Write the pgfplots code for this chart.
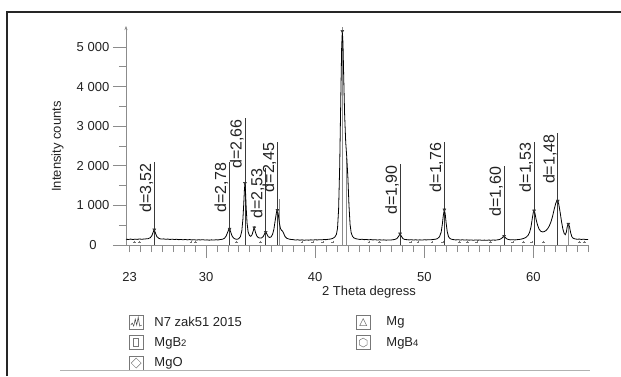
\documentclass[border=0pt]{standalone}
\usepackage{pgfplots}
\pgfplotsset{compat=1.18}
\usepackage{fontspec}
\setmainfont{Liberation Sans}
\usetikzlibrary{arrows.meta}
\definecolor{axgray}{HTML}{8C8C8C}
\definecolor{txt}{HTML}{222222}
\definecolor{dline}{HTML}{3A3A3A}
\definecolor{boxgray}{HTML}{777777}

\pgfplotstableread{
x y
22.67 145
22.9 140
23.1 150
23.3 138
23.5 148
23.7 142
23.9 152
24.1 145
24.3 150
24.5 155
24.7 160
24.9 185
25.05 240
25.15 320
25.26 385
25.37 300
25.5 210
25.7 165
25.9 150
26.1 155
26.3 145
26.5 150
26.7 140
26.9 148
27.1 138
27.3 145
27.5 135
27.7 140
27.9 132
28.1 140
28.3 130
28.5 138
28.7 128
28.9 135
29.1 125
29.3 132
29.5 128
29.7 135
29.9 125
30.1 130
30.3 122
30.5 130
30.7 125
30.9 132
31.1 128
31.3 138
31.5 145
31.7 170
31.85 230
31.98 320
32.08 390
32.16 405
32.26 330
32.4 220
32.55 170
32.7 150
32.85 145
33.0 160
33.15 210
33.28 350
33.38 650
33.46 1050
33.52 1400
33.57 1560
33.62 1350
33.68 950
33.76 560
33.86 330
33.98 240
34.1 220
34.22 260
34.32 350
34.42 440
34.52 330
34.65 230
34.8 185
34.95 175
35.1 180
35.25 215
35.38 290
35.47 325
35.57 280
35.7 210
35.85 190
35.98 210
36.1 270
36.22 400
36.34 620
36.46 830
36.54 880
36.62 780
36.72 560
36.82 420
36.92 370
37.02 350
37.12 290
37.25 210
37.4 170
37.6 150
37.8 140
38.0 135
38.2 125
38.4 132
38.6 122
38.8 130
39.0 120
39.2 128
39.4 122
39.6 130
39.8 125
40.0 132
40.2 128
40.4 135
40.6 130
40.8 138
41.0 135
41.2 145
41.4 150
41.6 165
41.8 200
41.95 270
42.05 420
42.15 900
42.25 2000
42.35 3700
42.43 5000
42.49 5400
42.55 5100
42.62 4200
42.7 3300
42.8 2600
42.9 2200
43.0 1700
43.1 1000
43.2 520
43.3 310
43.42 220
43.55 180
43.7 160
43.9 150
44.1 140
44.3 145
44.5 135
44.7 140
44.9 130
45.1 138
45.3 128
45.5 135
45.7 125
45.9 132
46.1 125
46.3 130
46.5 122
46.7 128
46.9 125
47.1 132
47.3 140
47.5 165
47.65 220
47.78 285
47.9 220
48.05 160
48.2 140
48.4 135
48.6 128
48.8 135
49.0 125
49.2 132
49.4 125
49.6 130
49.8 125
50.0 132
50.2 128
50.4 135
50.6 132
50.8 140
51.0 145
51.2 160
51.4 210
51.55 330
51.65 520
51.75 760
51.84 890
51.92 780
52.0 560
52.1 340
52.22 210
52.35 165
52.5 145
52.7 135
52.9 128
53.1 135
53.3 125
53.5 132
53.7 125
53.9 130
54.1 122
54.3 128
54.5 120
54.7 128
54.9 122
55.1 126
55.3 118
55.5 124
55.7 118
55.9 125
56.1 120
56.3 126
56.5 122
56.7 130
56.9 140
57.1 170
57.22 205
57.31 225
57.42 190
57.55 155
57.7 140
57.9 130
58.1 135
58.3 128
58.5 135
58.7 140
58.9 150
59.1 165
59.3 190
59.5 240
59.65 320
59.78 460
59.9 680
60.0 840
60.06 865
60.14 800
60.25 640
60.38 500
60.52 400
60.68 345
60.85 330
61.0 340
61.15 365
61.3 410
61.45 480
61.6 580
61.75 720
61.9 900
62.05 1060
62.15 1110
62.23 1115
62.32 1030
62.45 820
62.58 580
62.7 400
62.82 290
62.92 260
63.02 330
63.1 470
63.2 530
63.3 470
63.4 320
63.52 210
63.65 170
63.8 155
64.0 145
64.2 150
64.4 140
64.6 148
64.8 138
65.0 140
}\spectrum

% d-spacing reference lines: position, top of line
\pgfplotstableread{
x top
25.26 2090
32.14 2100
33.57 3200
35.47 1950
36.54 2610
47.78 2040
51.84 2610
57.31 2000
60.06 2610
62.23 2820
}\dlines

\begin{document}
\begin{tikzpicture}
\useasboundingbox (0pt,0pt) rectangle (621pt,376pt);
\begin{axis}[
  at={(126pt,131pt)}, anchor=south west,
  scale only axis, width=462pt, height=219pt,
  xmin=22.67, xmax=65, ymin=0, ymax=5530,
  axis x line=bottom, axis y line=left,
  x axis line style={draw=axgray, -},
  y axis line style={draw=axgray, -{Stealth[length=4pt,width=3pt]}},
  tick align=outside,
  major tick length=13pt, minor tick length=7pt,
  tick style={draw=axgray, line width=0.6pt},
  xtick={30,40,50,60},
  xticklabels={30,40,50,60},
  extra x ticks={23}, extra x tick labels={23},
  extra x tick style={major tick length=7pt, xticklabel style={yshift=-6pt}},
  minor xtick={23,24,...,65},
  ytick={0,1000,2000,3000,4000,5000},
  yticklabels={0,{1 000},{2 000},{3 000},{4 000},{5 000}},
  minor ytick={500,1500,2500,3500,4500},
  /pgf/number format/assume math mode=true,
  ticklabel style={font=\fontsize{13}{15}\selectfont, text=txt},
  xticklabel style={anchor=center, yshift=-19.5pt},
  yticklabel style={anchor=center, xshift=-20pt},
  xlabel={2 Theta degress},
  ylabel={Intensity counts},
  label style={font=\fontsize{13}{15}\selectfont, text=txt},
  xlabel style={at={(axis description cs:0.526,-0.215)}, anchor=center},
  ylabel style={at={(axis description cs:-0.148,0.45)}, anchor=center},
  clip=false,
  legend columns=2,
  legend cell align=left,
  legend style={at={(axis description cs:0.006,-0.318)}, anchor=north west,
    draw=none, fill=none, font=\fontsize{13}{15}\selectfont, text=txt,
    /tikz/every odd column/.append style={column sep=9pt},
    /tikz/every even column/.append style={column sep=112pt},
    row sep=6pt, inner sep=0pt,
    nodes={inner ysep=1pt}},
]
% d-lines
\addplot[dline, line width=0.7pt, ycomb, forget plot] table[x=x,y=top]{\dlines};
% stick lines at strong reflections
\addplot[axgray, line width=0.6pt, ycomb, forget plot] coordinates {(42.49,5500) (42.9,2200) (36.72,1160) (63.2,530)};
% spectrum
\addplot[black, line width=0.8pt,
  legend image code/.code={
    \draw[boxgray, line width=0.5pt] (0pt,-7pt) rectangle (14pt,7pt);
    \draw[black!75, line width=0.5pt] (1.5pt,-3pt) -- (3pt,-1pt) -- (4.5pt,-4pt) -- (6pt,3pt) -- (7.5pt,-3pt) -- (9pt,5pt) -- (10.5pt,-4pt) -- (12.5pt,-3pt);
  }] table[x=x,y=y]{\spectrum};
\addlegendentry{N7 zak51 2015}
% Mg
\addplot[only marks, mark=triangle*, mark size=1.7pt, black!80,
  mark options={rotate=180},
  legend image code/.code={
    \draw[boxgray, line width=0.5pt] (0pt,-7pt) rectangle (14pt,7pt);
    \draw[boxgray, line width=0.5pt] (3.5pt,-3.5pt) -- (10.5pt,-3.5pt) -- (7pt,3.5pt) -- cycle;
  }] coordinates {(32.16,405) (34.42,440) (36.54,880) (47.78,285) (57.31,225) (63.2,530)};
\addlegendentry{\hspace*{5pt}Mg}
% MgB2
\addplot[only marks, mark=triangle*, mark size=1.7pt, black!80,
  mark options={rotate=180},
  legend image code/.code={
    \draw[boxgray, line width=0.5pt] (0pt,-7pt) rectangle (14pt,7pt);
    \draw[boxgray, line width=0.5pt] (4.5pt,-4pt) rectangle (9.5pt,4pt);
  }] coordinates {(25.26,385) (33.57,1560) (42.49,5400) (51.84,890) (60.06,865)};
\addlegendentry{MgB\raisebox{-0.3pt}{\fontsize{9.5}{10}\selectfont 2}}
% MgB4
\addplot[only marks, mark=+, mark size=1.4pt, black!55,
  legend image code/.code={
    \draw[boxgray, line width=0.5pt] (0pt,-7pt) rectangle (14pt,7pt);
    \draw[boxgray, line width=0.5pt] (7pt,4.5pt) -- (10.9pt,2.25pt) -- (10.9pt,-2.25pt) -- (7pt,-4.5pt) -- (3.1pt,-2.25pt) -- (3.1pt,2.25pt) -- cycle;
  }] coordinates {(23.43,75) (23.89,75) (28.63,75) (29.02,75) (32.81,75) (35.01,75)
  (38.80,75) (39.78,75) (40.70,75) (41.61,75) (44.94,75) (45.88,75) (48.76,75)
  (49.43,75) (50.71,75) (51.70,75) (53.19,75) (53.93,75) (54.81,75) (56.03,75)
  (58.11,75) (59.08,75) (59.85,75) (60.89,75) (64.19,75) (64.65,75)};
\addlegendentry{\hspace*{5pt}MgB\raisebox{-0.3pt}{\fontsize{9.5}{10}\selectfont 4}}
% MgO
\addplot[only marks, mark=triangle*, mark size=1.7pt, black!80,
  mark options={rotate=180},
  legend image code/.code={
    \draw[boxgray, line width=0.5pt] (0pt,-7pt) rectangle (14pt,7pt);
    \draw[boxgray, line width=0.5pt] (7pt,-5pt) -- (12pt,0pt) -- (7pt,5pt) -- (2pt,0pt) -- cycle;
  }] coordinates {(35.47,325) (62.23,1115)};
\addlegendentry{MgO}
% d labels
\node[rotate=90, anchor=south east, inner sep=1pt, font=\fontsize{16}{18}\selectfont, text=txt] at (axis cs:25.26,2090) {d=3,52};
\node[rotate=90, anchor=south east, inner sep=1pt, font=\fontsize{16}{18}\selectfont, text=txt] at (axis cs:32.14,2100) {d=2,78};
\node[rotate=90, anchor=south east, inner sep=1pt, font=\fontsize{16}{18}\selectfont, text=txt] at (axis cs:33.57,3200) {d=2,66};
\node[rotate=90, anchor=south east, inner sep=1pt, font=\fontsize{16}{18}\selectfont, text=txt] at (axis cs:35.47,1950) {d=2,53};
\node[rotate=90, anchor=south east, inner sep=1pt, font=\fontsize{16}{18}\selectfont, text=txt] at (axis cs:36.54,2610) {d=2,45};
\node[rotate=90, anchor=south east, inner sep=1pt, font=\fontsize{16}{18}\selectfont, text=txt] at (axis cs:47.78,2040) {d=1,90};
\node[rotate=90, anchor=south east, inner sep=1pt, font=\fontsize{16}{18}\selectfont, text=txt] at (axis cs:51.84,2610) {d=1,76};
\node[rotate=90, anchor=south east, inner sep=1pt, font=\fontsize{16}{18}\selectfont, text=txt] at (axis cs:57.31,2000) {d=1,60};
\node[rotate=90, anchor=south east, inner sep=1pt, font=\fontsize{16}{18}\selectfont, text=txt] at (axis cs:60.06,2610) {d=1,53};
\node[rotate=90, anchor=south east, inner sep=1pt, font=\fontsize{16}{18}\selectfont, text=txt] at (axis cs:62.23,2820) {d=1,48};
\end{axis}
% outer frame
\draw[black!85, line width=1.2pt] (7pt,0pt) -- (7pt,364pt) -- (621pt,364pt);
\draw[black!30, line width=0.8pt] (60pt,6pt) -- (590pt,6pt);
\end{tikzpicture}
\end{document}
